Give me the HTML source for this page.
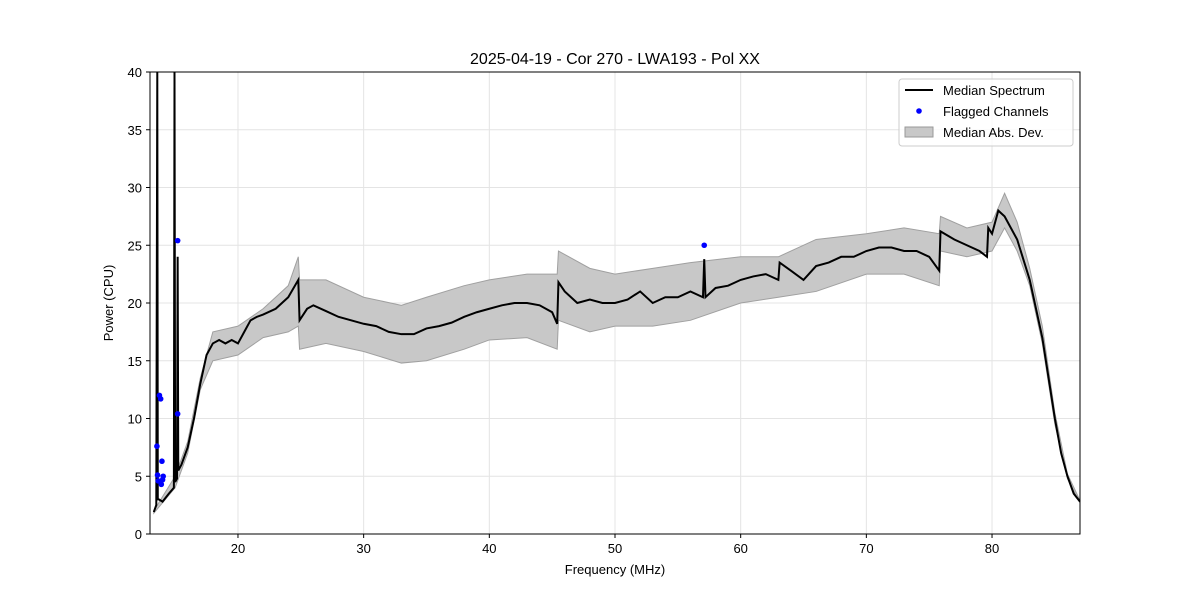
<!DOCTYPE html>
<html><head><meta charset="utf-8"><style>
body{margin:0;background:#fff}
svg{font-family:"Liberation Sans","DejaVu Sans",sans-serif}
</style></head><body>
<svg id="chart" width="1200" height="600" xmlns="http://www.w3.org/2000/svg">
<rect width="1200" height="600" fill="#fff"/>
<text x="615" y="64" text-anchor="middle" font-size="16">2025-04-19 - Cor 270 - LWA193 - Pol XX</text>
<g id="grid"></g>
<g id="plot"></g>
<rect x="150" y="72" width="930" height="462" fill="none" stroke="#000" stroke-width="1"/>
<g id="ticks"></g>
<text x="615" y="574" text-anchor="middle" font-size="13">Frequency (MHz)</text>
<text x="0" y="0" transform="translate(113,303) rotate(-90)" text-anchor="middle" font-size="13">Power (CPU)</text>
<g>
<rect x="899" y="79" width="174" height="67" rx="3" fill="#fff" fill-opacity="0.8" stroke="#ccc"/>
<g><line x1="905" y1="90" x2="933" y2="90" stroke="#000" stroke-width="2"/><text x="943" y="95" font-size="13">Median Spectrum</text></g>
<g><circle cx="919" cy="111" r="2.8" fill="#0000ff"/><text x="943" y="116" font-size="13">Flagged Channels</text></g>
<g><rect x="905" y="127" width="28" height="10" fill="#c8c8c8" stroke="#999"/><text x="943" y="137" font-size="13">Median Abs. Dev.</text></g>
</g>
</svg>
<script>
const medFreq=[13.3,13.5,13.58,13.62,13.7,14,14.5,14.9,14.95,15.0,15.15,15.2,15.25,15.5,16,16.5,17,17.5,18,18.5,19,19.5,20,20.5,21,21.5,22,23,24,24.8,24.9,25.5,26,27,28,29,30,31,32,33,34,35,36,37,38,39,40,41,42,43,44,45,45.4,45.5,46,47,48,49,50,51,52,53,54,55,56,57,57.1,57.2,58,59,60,61,62,63,63.1,64,65,66,67,68,69,70,71,72,73,74,75,75.8,75.9,77,78,79,79.6,79.7,80,80.5,81,82,83,84,85,85.5,86,86.5,87];
const medPow=[1.9,2.5,40,3,3,2.8,3.5,4,40,4.5,4.8,24,5.5,6,7.5,10,13,15.5,16.5,16.8,16.5,16.8,16.5,17.5,18.5,18.8,19,19.5,20.5,22,18.5,19.5,19.8,19.3,18.8,18.5,18.2,18,17.5,17.3,17.3,17.8,18,18.3,18.8,19.2,19.5,19.8,20,20,19.8,19.2,18.2,21.8,21,20,20.3,20,20,20.3,21,20,20.5,20.5,21,20.5,23.8,20.5,21.3,21.5,22,22.3,22.5,22,23.5,22.8,22,23.2,23.5,24,24,24.5,24.8,24.8,24.5,24.5,24,22.8,26.2,25.5,25,24.5,24,26.5,26,28,27.5,25.5,22,17,10,7,5,3.5,2.8];
const bandFreq=[13.3,15,16,17,18,20,22,24,24.8,24.9,27,30,33,35,38,40,43,45.4,45.5,48,50,53,56,60,63,66,70,73,75.8,75.9,78,80,81,82,83,84,85,86,87];
const bandLow=[1.8,4,7,12.5,15,15.5,17,17.5,18,16,16.5,15.8,14.8,15,16,16.8,17,16,18.5,17.5,18,18,18.5,20,20.5,21,22.5,22.5,21.5,24.5,24,24.5,26.5,24.5,21.5,16.5,9.5,4.8,2.7];
const bandHigh=[2,5,8,13.5,17.5,18,19.5,21.5,24,22,22,20.5,19.8,20.5,21.5,22,22.5,22.5,24.5,23,22.5,23,23.5,24,24,25.5,26,26.5,26,27.5,26.5,27,29.5,27,23,18,10.5,5.2,2.9];
const flagFreq=[13.55,13.6,13.65,13.75,13.85,13.9,13.95,14.0,14.05,15.2,15.2,57.1];
const flagPow=[7.6,5.1,4.6,12,11.7,4.3,6.3,4.7,5.0,25.4,10.4,25];
const xTicks=[20,30,40,50,60,70,80];
const yTicks=[0,5,10,15,20,25,30,35,40];
const NS="http://www.w3.org/2000/svg";
const X=f=>150+(f-13)*930/74, Y=v=>534-Math.min(v,40.5)*462/40;
function mk(t,a,p){const e=document.createElementNS(NS,t);for(const k in a)e.setAttribute(k,a[k]);p.appendChild(e);return e;}
const grid=document.getElementById('grid'),plot=document.getElementById('plot'),ticks=document.getElementById('ticks');
xTicks.forEach(t=>{
 const g=mk('line',{x1:X(t),x2:X(t),y1:72,y2:534,stroke:'#e4e4e4'},grid);
 
 
 mk('line',{x1:X(t),x2:X(t),y1:534,y2:538,stroke:'#000'},ticks);
 const l=mk('text',{x:X(t),y:553,'text-anchor':'middle','font-size':13},ticks);l.textContent=t;
 
 
});
yTicks.forEach(t=>{
 const g=mk('line',{x1:150,x2:1080,y1:Y(t),y2:Y(t),stroke:'#e4e4e4'},grid);
 
 
 mk('line',{x1:146,x2:150,y1:Y(t),y2:Y(t),stroke:'#000'},ticks);
 const l=mk('text',{x:142,y:Y(t)+5,'text-anchor':'end','font-size':13},ticks);l.textContent=t;
 
 
});
let d='';bandFreq.forEach((f,i)=>d+=(i?'L':'M')+X(f)+','+Y(bandHigh[i]));
for(let i=bandFreq.length-1;i>=0;i--)d+='L'+X(bandFreq[i])+','+Y(bandLow[i]);
const band=mk('path',{d:d+'Z',fill:'#c8c8c8',stroke:'#a0a0a0','stroke-width':1},plot);


let m='';medFreq.forEach((f,i)=>m+=(i?'L':'M')+X(f)+','+Y(medPow[i]));
const line=mk('path',{d:m,fill:'none',stroke:'#000','stroke-width':2,'clip-path':'inset(0)'},plot);


flagFreq.forEach((f,i)=>{
 const c=mk('circle',{cx:X(f),cy:Y(flagPow[i]),r:2.8,fill:'#0000ff'},plot);
 
 
});
</script>
</body></html>
